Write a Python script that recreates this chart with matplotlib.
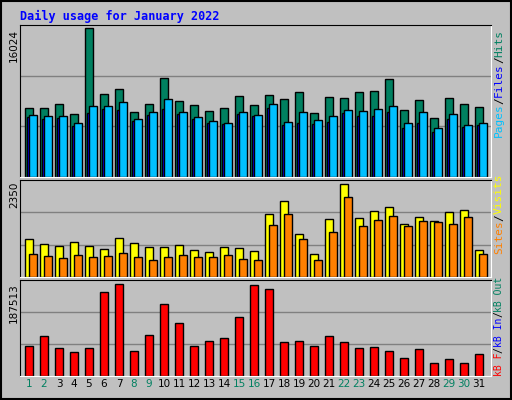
import matplotlib
matplotlib.use('Agg')
import matplotlib.pyplot as plt
import numpy as np

days = list(range(1, 32))
weekend_days = [1, 2, 8, 9, 15, 16, 22, 23, 29, 30]

hits = [7448, 7448, 7884, 6794, 16024, 8974, 9518, 7012, 7884, 10608, 8211, 7775, 7121, 7448, 8756, 7775,
        8865, 8429, 9191, 6903, 8647, 8538, 9191, 9301, 10499, 7230, 8320, 6358, 8538, 7884, 7557]
files = [6467, 6249, 6358, 5486, 6903, 7339, 7230, 6031, 6685, 7339, 6794, 6249, 5813, 5704, 6794, 6576,
         7448, 5595, 5813, 5704, 5922, 6903, 6576, 6576, 7012, 5268, 5813, 4832, 6249, 5377, 5595]
pages = [6685, 6576, 6576, 5813, 7666, 7666, 8102, 6249, 7012, 8429, 7012, 6467, 6031, 5813, 7012, 6685,
         7884, 5922, 7012, 6140, 6576, 7230, 7121, 7339, 7666, 5813, 7012, 5268, 6794, 5595, 5813]
visits = [971, 843, 792, 894, 792, 715, 996, 868, 766, 766, 817, 690, 639, 766, 741, 664,
          1584, 1916, 1098, 587, 1456, 2350, 1481, 1660, 1762, 1328, 1507, 1405, 1635, 1686, 690]
sites = [587, 536, 485, 562, 511, 536, 613, 511, 434, 511, 562, 511, 511, 562, 460, 434,
         1303, 1584, 971, 434, 1149, 2018, 1277, 1430, 1533, 1277, 1405, 1379, 1328, 1507, 587]
kbytes = [61821, 82428, 57700, 49457, 57700, 171038, 187513, 51518, 84489, 146310, 107156, 61821, 72125,
          78307, 119521, 185463, 177220, 70064, 72125, 61821, 82428, 70064, 57700, 59760, 51518, 37093,
          55639, 26789, 35032, 26789, 45335]

BG = '#C0C0C0'
GREEN = '#008060'
W, H = 512, 400

fig = plt.figure(figsize=(W / 100, H / 100), dpi=100, facecolor=BG)
x = np.array(days)


def make_ax(top, bottom, ymax):
    ax = fig.add_axes([20 / W, 1 - bottom / H, 471 / W, (bottom - top) / H])
    ax.set_facecolor(BG)
    ax.set_xlim(0.267, 31.667)
    ax.set_ylim(0, ymax)
    for g in (ymax / 3, 2 * ymax / 3):
        ax.axhline(g, color='#808080', lw=1, zorder=0)
    ax.set_xticks([])
    ax.set_yticks([])
    for s in ax.spines.values():
        s.set_color('black')
    ax.spines['bottom'].set_color('white')
    ax.spines['right'].set_color('white')
    return ax


kw = dict(edgecolor='black', linewidth=1, align='edge')

ax1 = make_ax(25, 177, 16024 * 150 / 147)
ax1.bar(x - 0.38, hits, 0.49, color=GREEN, **kw)
ax1.bar(x - 0.27, files, 0.5, color='#0000FF', **kw)
ax1.bar(x - 0.11, pages, 0.49, color='#00C0FF', **kw)

ax2 = make_ax(180, 277, 2350 * 96 / 92)
ax2.bar(x - 0.38, visits, 0.49, color='#FFFF00', **kw)
ax2.bar(x - 0.11, sites, 0.49, color='#FF8000', **kw)

ax3 = make_ax(280, 376, 187513 * 95 / 91)
ax3.bar(x - 0.38, kbytes, 0.49, color='#FF0000', **kw)

for d in days:
    ax3.text(d - 0.133, -0.035, str(d), transform=ax3.get_xaxis_transform(), ha='center', va='top',
             fontsize=7.5, family='DejaVu Sans', color=GREEN if d in weekend_days else 'black')

mono = 'DejaVu Sans Mono'
fig.text(20 / W, 1 - 16 / H, 'Daily usage for January 2022', color='#0000FF', fontsize=8.5,
         fontweight='bold', family=mono, va='center')

for ypix, label in ((29, '16024'), (182, '2350'), (283, '187513')):
    fig.text(14 / W, 1 - ypix / H, label, rotation=90, ha='center', va='top', fontsize=7.5, family='DejaVu Sans')


def side_label(bottom_pix, parts, size):
    adv = size * 100 / 72 * 0.602
    y = bottom_pix
    for txt, col in parts:
        fig.text(499 / W, 1 - y / H, txt, rotation=90, ha='center', va='bottom', color=col,
                 fontsize=size, family=mono)
        y -= adv * len(txt)


side_label(137, [('Pages', '#00C0FF'), ('/', 'black'), ('Files', '#0000FF'), ('/', 'black'), ('Hits', GREEN)], 8)
side_label(254, [('Sites', '#FF8000'), ('/', 'black'), ('Visits', '#FFFF00')], 8)
side_label(376, [('kB F', '#FF0000'), ('/', 'black'), ('kB In', '#0000FF'), ('/', 'black'), ('kB Out', GREEN)], 7)

# outer frame
fig.patches.append(plt.Rectangle((0.002, 0.002), 0.996, 0.996, transform=fig.transFigure,
                                 fill=False, edgecolor='black', lw=1.5))

fig.savefig('out.png', dpi=100, facecolor=BG)
